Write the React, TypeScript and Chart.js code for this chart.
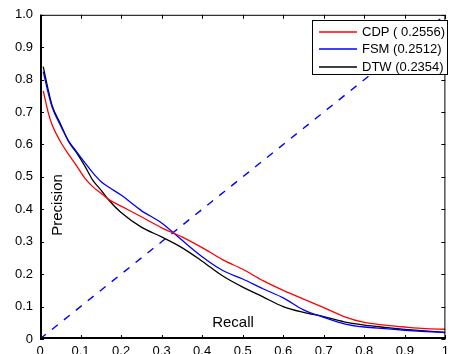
import React, { useEffect, useRef } from "react";
import { Chart, registerables } from "chart.js";

Chart.register(...registerables);

const recall = [0.008, 0.02, 0.03, 0.05, 0.07, 0.09, 0.11, 0.13, 0.15, 0.17, 0.2, 0.25, 0.3, 0.35, 0.4, 0.45, 0.5, 0.55, 0.6, 0.65, 0.7, 0.75, 0.8, 0.85, 0.9, 0.95, 1.0];
const cdp = [0.765, 0.7, 0.66, 0.61, 0.57, 0.535, 0.497, 0.47, 0.45, 0.43, 0.41, 0.377, 0.343, 0.315, 0.282, 0.245, 0.215, 0.18, 0.15, 0.123, 0.097, 0.069, 0.051, 0.043, 0.037, 0.032, 0.03];
const fsm = [0.825, 0.76, 0.715, 0.66, 0.612, 0.578, 0.545, 0.513, 0.486, 0.468, 0.444, 0.396, 0.358, 0.305, 0.254, 0.212, 0.185, 0.155, 0.127, 0.09, 0.067, 0.047, 0.037, 0.032, 0.027, 0.023, 0.02];
const dtw = [0.84, 0.77, 0.72, 0.665, 0.61, 0.575, 0.535, 0.49, 0.46, 0.428, 0.39, 0.345, 0.315, 0.282, 0.24, 0.195, 0.16, 0.13, 0.1, 0.082, 0.069, 0.053, 0.043, 0.036, 0.03, 0.025, 0.02];
const diagX = [0, 1];
const diagY = [0, 1];
const seriesLabels = ["CDP ( 0.2556)", "FSM (0.2512)", "DTW (0.2354)"];
const seriesColors = ["#ff0000", "#0000ff", "#000000"];
const xTitle = "Recall";
const yTitle = "Precision";

const FONT = "Arial, 'Liberation Sans', sans-serif";

const framePlugin = {
  id: "frame",
  afterDraw(chart: any) {
    const { ctx, chartArea: a, scales } = chart;
    const xs = scales.x;
    const ys = scales.y;
    ctx.save();
    ctx.setLineDash([]);
    ctx.strokeStyle = "#000";
    ctx.lineWidth = 1;
    ctx.beginPath();
    xs.ticks.forEach((t: any) => {
      const px = Math.round(xs.getPixelForValue(t.value)) + 0.5;
      ctx.moveTo(px, a.bottom);
      ctx.lineTo(px, a.bottom - 4);
      ctx.moveTo(px, a.top);
      ctx.lineTo(px, a.top + 4);
    });
    ys.ticks.forEach((t: any) => {
      const py = Math.round(ys.getPixelForValue(t.value)) + 0.5;
      ctx.moveTo(a.left, py);
      ctx.lineTo(a.left + 4, py);
      ctx.moveTo(a.right, py);
      ctx.lineTo(a.right - 4, py);
    });
    ctx.stroke();
    ctx.strokeRect(a.left + 0.5, a.top + 0.5, a.right - a.left - 1, a.bottom - a.top - 1);
    ctx.lineWidth = 2;
    ctx.beginPath();
    ctx.moveTo(a.left + 1, a.top);
    ctx.lineTo(a.left + 1, a.bottom);
    ctx.moveTo(a.left, a.bottom - 1);
    ctx.lineTo(a.right, a.bottom - 1);
    ctx.stroke();

    ctx.fillStyle = "#000";
    ctx.font = "15px " + FONT;
    ctx.textAlign = "center";
    ctx.textBaseline = "middle";
    ctx.fillText(xTitle, 233, 323);
    ctx.save();
    ctx.translate(58, 205);
    ctx.rotate(-Math.PI / 2);
    ctx.fillText(yTitle, 0, 0);
    ctx.restore();

    const bx = 312, by = 20, bw = 135, bh = 54;
    ctx.fillStyle = "#fff";
    ctx.fillRect(bx, by, bw, bh);
    ctx.lineWidth = 1;
    ctx.strokeStyle = "#000";
    ctx.strokeRect(bx + 0.5, by + 0.5, bw, bh);
    ctx.font = "13px " + FONT;
    ctx.textAlign = "left";
    ctx.textBaseline = "middle";
    const rows = [32, 49, 67];
    seriesLabels.forEach((label, i) => {
      ctx.strokeStyle = seriesColors[i];
      ctx.lineWidth = 1.3;
      ctx.beginPath();
      ctx.moveTo(319, rows[i]);
      ctx.lineTo(357, rows[i]);
      ctx.stroke();
      ctx.fillStyle = "#000";
      ctx.fillText(label, 362, rows[i] + 0.5);
    });
    ctx.restore();
  },
};

export default function App() {
  const ref = useRef<HTMLCanvasElement | null>(null);
  useEffect(() => {
    if (!ref.current) return;
    const mk = (ys: number[]) => recall.map((r, i) => ({ x: r, y: ys[i] }));
    const series = [cdp, fsm, dtw];
    const chart = new Chart(ref.current, {
      type: "line",
      data: {
        datasets: [
          ...series.map((s, i) => ({
            label: seriesLabels[i],
            data: mk(s),
            borderColor: seriesColors[i],
            borderWidth: 1.3,
            pointRadius: 0,
            cubicInterpolationMode: "monotone" as const,
          })),
          { label: "diag", data: diagX.map((x, i) => ({ x, y: diagY[i] })), borderColor: "#0000ff", borderWidth: 1.4, borderDash: [7.5, 7.8], pointRadius: 0 },
        ],
      },
      options: {
        responsive: false,
        animation: false,
        layout: { padding: { top: 14, right: 1, left: 0, bottom: 0 }, autoPadding: false },
        plugins: { legend: { display: false }, tooltip: { enabled: false } },
        scales: {
          x: {
            type: "linear",
            min: 0,
            max: 1,
            grid: { display: false, drawTicks: false },
            border: { display: false },
            afterFit: (s: any) => { s.height = 15; },
            ticks: {
              stepSize: 0.1,
              padding: 5,
              maxRotation: 0,
              autoSkip: false,
              color: "#000",
              font: { size: 13, family: FONT },
              callback: (v: any) => (v === 0 ? "0" : v === 1 ? "1" : Number(v).toFixed(1)),
            },
          },
          y: {
            type: "linear",
            min: 0,
            max: 1,
            grid: { display: false, drawTicks: false },
            border: { display: false },
            afterFit: (s: any) => { s.width = 40; },
            ticks: {
              stepSize: 0.1,
              padding: 7,
              autoSkip: false,
              color: "#000",
              font: { size: 13, family: FONT },
              callback: (v: any) => (v === 0 ? "0" : Number(v).toFixed(1)),
            },
          },
        },
      },
      plugins: [framePlugin],
    });
    return () => chart.destroy();
  }, []);
  return (
    <div style={{ position: "absolute", left: 0, top: 0, width: 454, height: 354, background: "#fff" }}>
      <canvas ref={ref} width={454} height={354} />
    </div>
  );
}
